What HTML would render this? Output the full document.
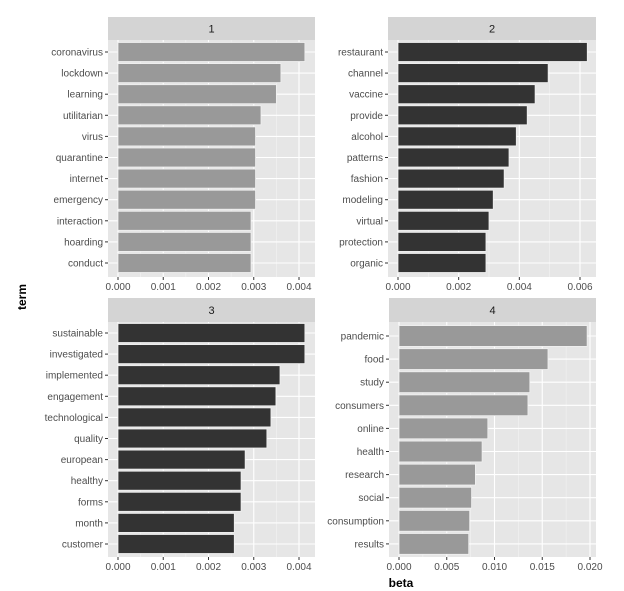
<!DOCTYPE html>
<html><head><meta charset="utf-8">
<style>
html,body{margin:0;padding:0;background:#fff;}
svg{display:block;font-family:"Liberation Sans",sans-serif;}
</style></head>
<body>
<svg id="chart" width="624" height="591" viewBox="0 0 624 591">
<text x="26" y="297" transform="rotate(-90 26 297)" text-anchor="middle" font-size="12" font-weight="bold" fill="#000">term</text>
<text x="401" y="587" text-anchor="middle" font-size="12" font-weight="bold" fill="#000">beta</text>
</svg>
<script>
const terms1 = ["coronavirus","lockdown","learning","utilitarian","virus","quarantine","internet","emergency","interaction","hoarding","conduct"];
const beta1 = [0.00413,0.0036,0.0035,0.00316,0.00304,0.00304,0.00304,0.00304,0.00294,0.00294,0.00294];
const ticks1 = [0,0.001,0.002,0.003,0.004];
const tickLabels1 = ["0.000","0.001","0.002","0.003","0.004"];

const terms2 = ["restaurant","channel","vaccine","provide","alcohol","patterns","fashion","modeling","virtual","protection","organic"];
const beta2 = [0.00624,0.00495,0.00452,0.00426,0.0039,0.00366,0.0035,0.00314,0.003,0.0029,0.0029];
const ticks2 = [0,0.002,0.004,0.006];
const tickLabels2 = ["0.000","0.002","0.004","0.006"];

const terms3 = ["sustainable","investigated","implemented","engagement","technological","quality","european","healthy","forms","month","customer"];
const beta3 = [0.00413,0.00413,0.00358,0.00349,0.00338,0.00329,0.00281,0.00272,0.00272,0.00257,0.00257];
const ticks3 = [0,0.001,0.002,0.003,0.004];
const tickLabels3 = ["0.000","0.001","0.002","0.003","0.004"];

const terms4 = ["pandemic","food","study","consumers","online","health","research","social","consumption","results"];
const beta4 = [0.0197,0.0156,0.0137,0.0135,0.0093,0.0087,0.0080,0.0076,0.0074,0.0073];
const ticks4 = [0,0.005,0.010,0.015,0.020];
const tickLabels4 = ["0.000","0.005","0.010","0.015","0.020"];

const NS = "http://www.w3.org/2000/svg";
const svg = document.getElementById("chart");
function mk(tag, attrs, parent){
  const e = document.createElementNS(NS, tag);
  for (const k in attrs) e.setAttribute(k, attrs[k]);
  (parent||svg).appendChild(e);
  return e;
}

function panel(cfg){
  const g = mk("g", {});
  
  
  const xs = v => cfg.x0 + (v / cfg.tmax) * (cfg.xt - cfg.x0);
  const n = cfg.terms.length;
  const first = cfg.firstY, step = cfg.step;
  const ys = i => first + i * step;
  // strip
  const strip = mk("rect", {x:cfg.left, y:cfg.stripTop, width:cfg.right-cfg.left, height:cfg.plotTop-cfg.stripTop, fill:"#d4d4d4"}, g);
  
  
  const st = mk("text", {x:(cfg.left+cfg.right)/2, y:(cfg.stripTop+cfg.plotTop)/2+4, "text-anchor":"middle", "font-size":"11", fill:"#1a1a1a"}, g);
  st.textContent = cfg.label;
  
  
  // background
  const bg = mk("rect", {x:cfg.left, y:cfg.plotTop, width:cfg.right-cfg.left, height:cfg.bottom-cfg.plotTop, fill:"#e6e6e6"}, g);
  
  
  // minor grid
  for (let k=0;k<cfg.ticks.length;k++){
    if (k < cfg.ticks.length-1 || true){
      const mv = cfg.ticks[k] + (cfg.ticks[1]-cfg.ticks[0])/2;
      const mx = xs(mv);
      if (mx < cfg.right){
        const ml = mk("line", {x1:mx, x2:mx, y1:cfg.plotTop, y2:cfg.bottom, stroke:"#f2f2f2", "stroke-width":"0.6"}, g);
        
        
      }
    }
  }
  // major grid x
  cfg.ticks.forEach((t,k)=>{
    const x = xs(t);
    const gl = mk("line", {x1:x, x2:x, y1:cfg.plotTop, y2:cfg.bottom, stroke:"#fff", "stroke-width":"1.1"}, g);
    
    
    const tk = mk("line", {x1:x, x2:x, y1:cfg.bottom, y2:cfg.bottom+3, stroke:"#333", "stroke-width":"1"}, g);
    
    
    const tl = mk("text", {x:x, y:cfg.bottom+13, "text-anchor":"middle", "font-size":"10", fill:"#4d4d4d"}, g);
    tl.textContent = cfg.tickLabels[k];
    
    
  });
  // horizontal grid + bars
  cfg.terms.forEach((term,i)=>{
    const y = ys(i);
    const hl = mk("line", {x1:cfg.left, x2:cfg.right, y1:y, y2:y, stroke:"#fff", "stroke-width":"1.1"}, g);
    
    
    const h = step*0.9;
    const bar = mk("rect", {x:xs(0), y:y-h/2, width:xs(cfg.values[i])-xs(0), height:h, fill:cfg.color, stroke:"#f0f0f0", "stroke-width":"0.8"}, g);
    
    
    const tk = mk("line", {x1:cfg.left-3, x2:cfg.left, y1:y, y2:y, stroke:"#333", "stroke-width":"1"}, g);
    
    
    const lb = mk("text", {x:cfg.left-5, y:y+3.5, "text-anchor":"end", "font-size":"10", fill:"#4d4d4d"}, g);
    lb.textContent = term;
    
    
  });
}

panel({label:"1", terms:terms1, values:beta1, ticks:ticks1, tickLabels:tickLabels1, tmax:0.004,
  left:108, right:315, stripTop:17, plotTop:40, bottom:277, x0:118, xt:299, firstY:52, step:21.1, color:"#999999"});
panel({label:"2", terms:terms2, values:beta2, ticks:ticks2, tickLabels:tickLabels2, tmax:0.006,
  left:388, right:596, stripTop:17, plotTop:40, bottom:277, x0:398, xt:580, firstY:52, step:21.1, color:"#333333"});
panel({label:"3", terms:terms3, values:beta3, ticks:ticks3, tickLabels:tickLabels3, tmax:0.004,
  left:108, right:315, stripTop:298, plotTop:322, bottom:557, x0:118, xt:299, firstY:333, step:21.1, color:"#333333"});
panel({label:"4", terms:terms4, values:beta4, ticks:ticks4, tickLabels:tickLabels4, tmax:0.020,
  left:389, right:596, stripTop:298, plotTop:322, bottom:557, x0:399, xt:590, firstY:336, step:23.1, color:"#999999"});
</script>
</body></html>
